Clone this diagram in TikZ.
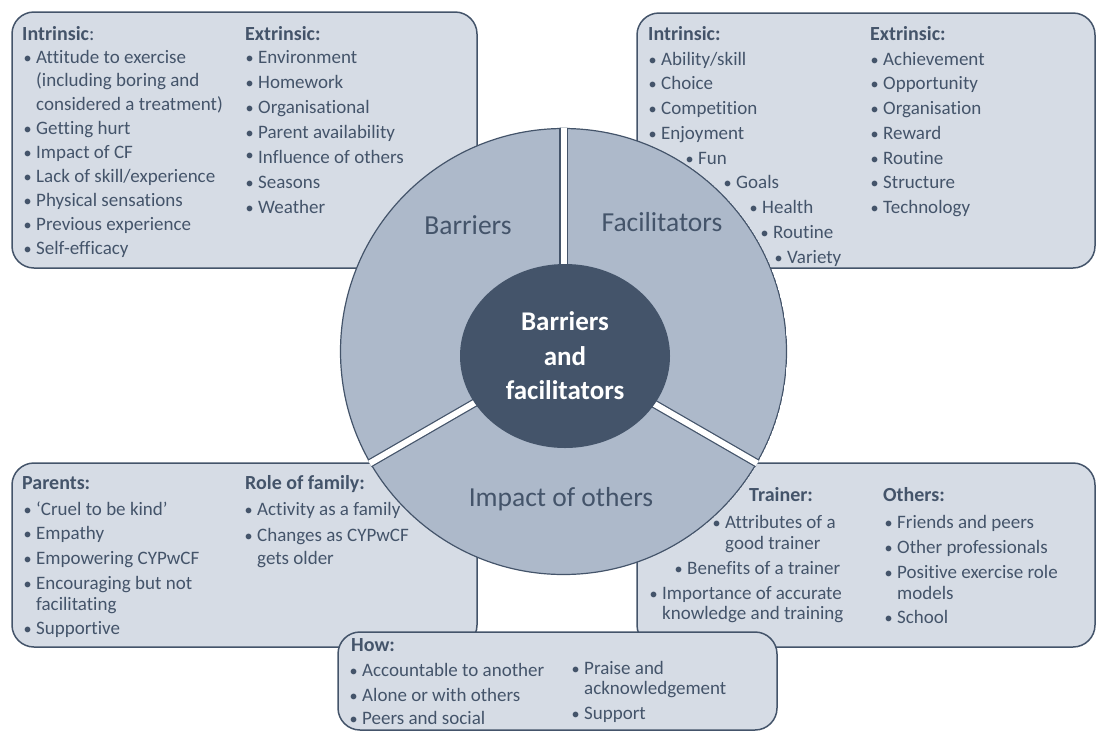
\documentclass[tikz,border=0pt]{standalone}
\usepackage{fontspec}
\setmainfont{Carlito}[Ligatures=CommonOff]
\usetikzlibrary{shapes.geometric}
\definecolor{boxfill}{HTML}{D6DCE5}
\definecolor{secfill}{HTML}{ADB9CA}
\definecolor{dk}{HTML}{44546A}
\newcommand\bul{\scalebox{0.85}{\textbullet}}
\newcommand\bi[4]{\node[txt] (#1) at (#2,#3) {\llap{\bul\hspace{4.5pt}}#4};}
\newcommand\cl[4]{\node[txt] (#1) at (#2,#3) {#4};}
\begin{document}
\begin{tikzpicture}[x=1pt,y=-1pt,
  panel/.style={draw=dk,line width=1.5pt,fill=boxfill,rounded corners=22pt},
  txt/.style={anchor=base west,inner sep=0pt,text=dk,font=\fontsize{19}{23}\selectfont},
  hdr/.style={anchor=base west,inner sep=0pt,text=dk,font=\fontsize{20}{24}\selectfont\bfseries},
  seclab/.style={anchor=base,inner sep=0pt,text=dk,font=\fontsize{27.5}{33}\selectfont},
]
\useasboundingbox (0,0) rectangle (1097,732);
% panels
\path[panel] (12,12) rectangle (477,268);
\path[panel] (637,13) rectangle (1095,268);
\path[panel] (12,463) rectangle (477,647);
\path[panel] (637,463) rectangle (1095,647);
% wheel
\coordinate (C) at (563.5,351.5);
\begin{scope}
  \clip (C) circle[radius=223.8pt];
  \draw[draw=dk,line width=1.2pt,fill=secfill] (C) circle[radius=223pt];
  \draw[dk,line width=8.5pt] (C) -- ++(0,-250);
  \draw[white,line width=6pt] (C) -- ++(0,-250);
  \draw[dk,line width=8.5pt] (C) -- ++(-216.5,125);
  \draw[white,line width=6pt] (C) -- ++(-216.5,125);
  \draw[dk,line width=8.5pt] (C) -- ++(216.5,125);
  \draw[white,line width=6pt] (C) -- ++(216.5,125);
\end{scope}
\node[ellipse,fill=dk,minimum width=210pt,minimum height=184pt,inner sep=0pt,align=center,text=white,
  font=\fontsize{27}{34.5}\selectfont\bfseries] (hub) at (565,356) {Barriers\\and\\facilitators};
\node[seclab] (barr) at (468,234) {Barriers};
\node[seclab] (faci) at (662,231) {Facilitators};
\node[seclab] (impa) at (561,506) {Impact of others};
% how panel
\path[panel] (338,632) rectangle (777,730);

% top-left texts
\node[hdr] (h1) at (22,40) {Intrinsic\mdseries:};
\bi{a1}{36}{63}{Attitude to exercise}
\cl{a2}{36}{86.9}{(including boring and}
\cl{a3}{36}{110.8}{considered a treatment)}
\bi{a4}{36}{134.7}{Getting hurt}
\bi{a5}{36}{158.6}{Impact of CF}
\bi{a6}{36}{182.5}{Lack of skill/experience}
\bi{a7}{36}{206.4}{Physical sensations}
\bi{a8}{36}{230.3}{Previous experience}
\bi{a9}{36}{254.2}{Self-efficacy}
\node[hdr] (h2) at (245,40) {Extrinsic:};
\bi{b1}{258}{63}{Environment}
\bi{b2}{258}{88}{Homework}
\bi{b3}{258}{113}{Organisational}
\bi{b4}{258}{138}{Parent availability}
\node[txt] (b5) at (258,163) {\llap{\raisebox{3pt}{\bul}\hspace{4.5pt}}Influence of others};
\bi{b6}{258}{188}{Seasons}
\bi{b7}{258}{213}{Weather}

% top-right texts
\node[hdr] (h3) at (648,40) {Intrinsic:};
\bi{c1}{661}{65}{Ability/skill}
\bi{c2}{661}{89.75}{Choice}
\bi{c3}{661}{114.5}{Competition}
\bi{c4}{661}{139.25}{Enjoyment}
\bi{c5}{698}{164}{Fun}
\bi{c6}{736}{188.75}{Goals}
\bi{c7}{762}{213.5}{Health}
\bi{c8}{773}{238.25}{Routine}
\bi{c9}{787}{263}{Variety}
\node[hdr] (h4) at (870,40) {Extrinsic:};
\bi{d1}{883}{65}{Achievement}
\bi{d2}{883}{89.75}{Opportunity}
\bi{d3}{883}{114.5}{Organisation}
\bi{d4}{883}{139.25}{Reward}
\bi{d5}{883}{164}{Routine}
\bi{d6}{883}{188.75}{Structure}
\bi{d7}{883}{213.5}{Technology}

% bottom-left texts
\node[hdr] (h5) at (22,489) {Parents:};
\bi{e1}{36}{515}{‘Cruel to be kind’}
\bi{e2}{36}{539}{Empathy}
\bi{e3}{36}{564}{Empowering CYPwCF}
\bi{e4}{36}{589}{Encouraging but not}
\cl{e5}{36}{610}{facilitating}
\bi{e6}{36}{634}{Supportive}
\node[hdr] (h6) at (245,489) {Role of family:};
\bi{f1}{257}{515}{Activity as a family}
\bi{f2}{257}{541}{Changes as CYPwCF}
\cl{f3}{257}{564}{gets older}

% bottom-right texts
\node[hdr] (h7) at (749,501) {Trainer:};
\bi{g1}{725}{528}{Attributes of a}
\cl{g2}{725}{549}{good trainer}
\bi{g3}{687}{574}{Benefits of a trainer}
\bi{g4}{662}{599}{Importance of accurate}
\cl{g5}{662}{619}{knowledge and training}
\node[hdr] (h8) at (883,501) {Others:};
\bi{k1}{897}{528}{Friends and peers}
\bi{k2}{897}{553}{Other professionals}
\bi{k3}{897}{578}{Positive exercise role}
\cl{k4}{897}{599}{models}
\bi{k5}{897}{623}{School}

% how texts
\node[hdr] (h9) at (351,651) {How:};
\bi{m1}{362}{676}{Accountable to another}
\bi{m2}{362}{701}{Alone or with others}
\bi{m3}{362}{724}{Peers and social}
\bi{n1}{584}{674}{Praise and}
\cl{n2}{584}{694}{acknowledgement}
\bi{n3}{584}{719}{Support}
\end{tikzpicture}
\end{document}
